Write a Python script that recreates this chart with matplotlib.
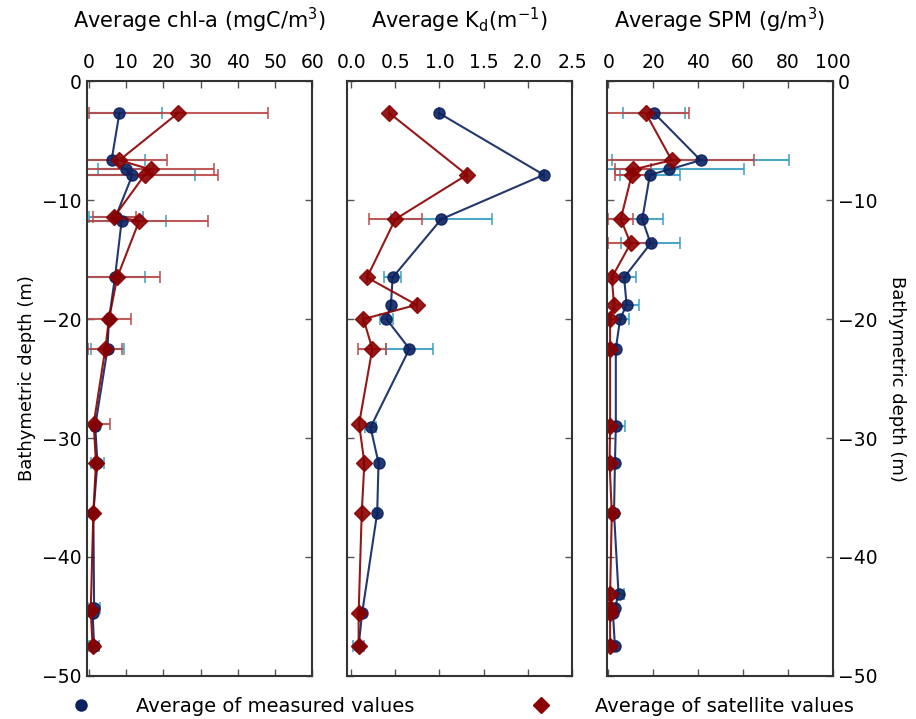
import numpy as np
import matplotlib
matplotlib.use('Agg')
import matplotlib.pyplot as plt
from matplotlib.lines import Line2D

# chl-a (mgC/m3)
chl_meas_depth = [-2.66, -6.64, -7.42, -7.87, -11.4, -11.74, -16.5, -20.0, -22.5, -29.0, -32.1, -36.3, -44.3, -44.7, -47.5]
chl_meas_val = [8.2, 6.1, 9.9, 11.7, 7.2, 8.8, 7.0, 5.4, 5.0, 1.7, 2.3, 1.2, 1.4, 1.0, 1.4]
chl_meas_err = [11.5, 9.0, 7.4, 16.7, 7.2, 11.8, 8.1, 0.5, 4.4, 0.8, 1.8, 0.3, 1.6, 0.5, 1.4]
chl_sat_depth = [-2.66, -6.64, -7.42, -7.87, -11.4, -11.74, -16.5, -20.0, -22.5, -28.8, -32.1, -36.3, -44.5, -47.5]
chl_sat_val = [24.0, 8.2, 16.6, 15.0, 6.8, 13.5, 7.6, 5.4, 4.4, 1.3, 1.9, 1.2, 0.5, 1.0]
chl_sat_err = [24.1, 12.7, 17.0, 19.7, 5.8, 18.5, 11.4, 5.9, 4.6, 4.5, 0.5, 0.2, 0.3, 0.3]

# Kd (1/m)
kd_meas_depth = [-2.66, -7.87, -11.6, -16.5, -18.8, -20.0, -22.5, -29.1, -32.1, -36.3, -44.7, -47.5]
kd_meas_val = [0.99, 2.18, 1.02, 0.47, 0.45, 0.40, 0.66, 0.22, 0.31, 0.295, 0.125, 0.085]
kd_meas_err = [0, 0, 0.57, 0.1, 0, 0.075, 0.27, 0.06, 0, 0.02, 0, 0.06]
kd_sat_depth = [-2.66, -7.87, -11.6, -16.5, -18.8, -20.0, -22.5, -28.8, -32.1, -36.3, -44.7, -47.5]
kd_sat_val = [0.43, 1.31, 0.50, 0.18, 0.74, 0.14, 0.24, 0.09, 0.15, 0.12, 0.085, 0.085]
kd_sat_err = [0, 0, 0.3, 0, 0, 0, 0.16, 0, 0, 0, 0, 0]

# SPM (g/m3)
spm_depth = [-2.66, -6.64, -7.42, -7.87, -11.6, -13.64, -16.5, -18.8, -20.0, -22.5, -29.0, -32.1, -36.3, -43.1, -44.3, -44.7, -47.5]
spm_meas_val = [20.3, 41.1, 27.1, 18.5, 15.1, 18.8, 7.0, 8.1, 5.2, 3.3, 3.3, 2.9, 2.5, 4.5, 2.9, 2.0, 2.9]
spm_meas_err = [13.9, 39.3, 33.3, 13.4, 9.4, 13.1, 5.3, 5.7, 4.1, 0.5, 4.1, 0.5, 0.5, 2.5, 1.0, 0.5, 0.8]
spm_sat_val = [16.6, 28.2, 11.1, 10.4, 5.5, 9.9, 1.5, 2.5, 0.75, 0.75, 0.75, 0.5, 1.5, 0.75, 0.75, 0.75, 0.75]
spm_sat_err = [19.4, 36.7, 8.0, 7.4, 5.6, 9.9, 0.5, 0.5, 0.3, 0.3, 0.3, 0.3, 0.3, 0.3, 0.3, 0.3, 0.3]

titles = ['Average chl-a (mgC/m$^3$)', 'Average K$_\\mathregular{d}$(m$^{-1}$)', 'Average SPM (g/m$^3$)']
xlims = [(-0.5, 60), (-0.05, 2.5), (-0.5, 100)]
xticks = [np.arange(0, 61, 10), np.arange(0, 2.51, 0.5), np.arange(0, 101, 20)]
xticklabels = [[str(int(v)) for v in xticks[0]],
               ['%.1f' % v for v in xticks[1]],
               [str(int(v)) for v in xticks[2]]]

meas_color = '#0c2260'
meas_ecolor = '#3a9cc0'
sat_color = '#8b0000'
sat_ecolor = '#b84848'

plt.rcParams['mathtext.default'] = 'regular'

fig = plt.figure(figsize=(9.16, 7.19), dpi=100)
lefts = [0.095, 0.3785, 0.663]
axes = [fig.add_axes([l, 0.060, 0.246, 0.827]) for l in lefts]

panels = [
    (chl_meas_depth, chl_meas_val, chl_meas_err, chl_sat_depth, chl_sat_val, chl_sat_err),
    (kd_meas_depth, kd_meas_val, kd_meas_err, kd_sat_depth, kd_sat_val, kd_sat_err),
    (spm_depth, spm_meas_val, spm_meas_err, spm_depth, spm_sat_val, spm_sat_err),
]

for i, (ax, p) in enumerate(zip(axes, panels)):
    md, mv, me, sd, sv, se = p
    ax.errorbar(mv, md, xerr=me, fmt='o-', color=meas_color, ecolor=meas_ecolor,
                ms=8, lw=1.5, elinewidth=1.5, capsize=4, capthick=1.2, alpha=0.9)
    ax.errorbar(sv, sd, xerr=se, fmt='D-', color=sat_color, ecolor=sat_ecolor,
                ms=8, lw=1.5, elinewidth=1.5, capsize=4, capthick=1.2, alpha=0.9)
    ax.set_xlim(*xlims[i])
    ax.set_ylim(-50, 0)
    ax.set_xticks(xticks[i])
    ax.set_xticklabels(xticklabels[i])
    ax.set_yticks(np.arange(-50, 1, 10))
    ax.tick_params(direction='in', top=True, bottom=True, left=True, right=True,
                   labeltop=True, labelbottom=False, labelleft=(i == 0), labelright=(i == 2),
                   length=5, width=1, color='#555555', labelsize=13.5, pad=4)
    ax.tick_params(axis='x', pad=7)
    for s in ax.spines.values():
        s.set_linewidth(1.5)
        s.set_color('#333333')
    ax.set_title(titles[i], fontsize=15, pad=38)

axes[0].set_ylabel('Bathymetric depth (m)', fontsize=13)
axes[2].yaxis.set_label_position('right')
axes[2].set_ylabel('Bathymetric depth (m)', fontsize=13, rotation=270, labelpad=20)

handles = [Line2D([], [], marker='o', ls='none', color=meas_color, ms=8),
           Line2D([], [], marker='D', ls='none', color=sat_color, ms=8)]
fig.legend(handles, ['Average of measured values', 'Average of satellite values'],
           loc='lower center', bbox_to_anchor=(0.5, -0.02), ncol=2, frameon=False,
           fontsize=14, handletextpad=1.8, columnspacing=5.5, numpoints=1)

fig.savefig('out.png', dpi=100)
